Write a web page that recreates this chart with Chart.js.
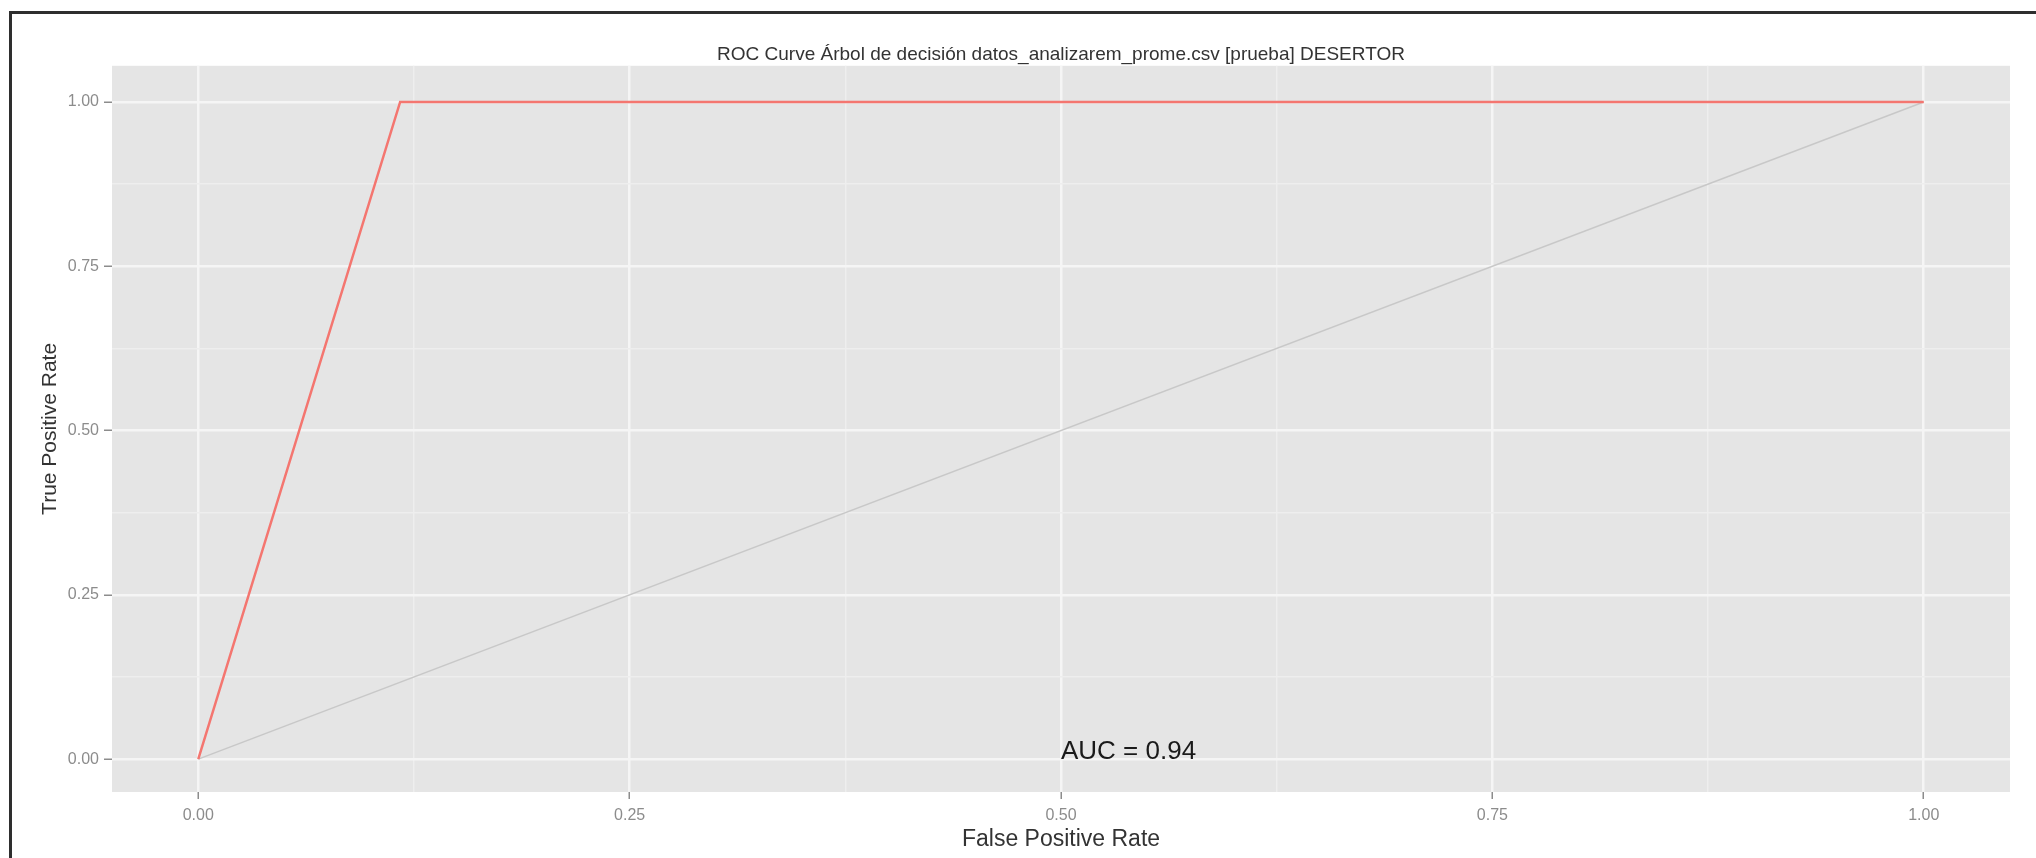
<!DOCTYPE html>
<html>
<head>
<meta charset="utf-8">
<script src="https://cdn.jsdelivr.net/npm/chart.js@4"></script>
<style>
  html, body { margin: 0; padding: 0; background: #fff; overflow: hidden; }
  #wrap { position: relative; width: 2036px; height: 858px; }
  #frame { position: absolute; left: 9px; top: 11px; width: 2100px; height: 900px;
           border: 3px solid #2e2e2e; pointer-events: none; }
</style>
</head>
<body>
<div id="wrap">
  <canvas id="myChart" width="2036" height="858"></canvas>
  <div id="frame"></div>
</div>
<script>
// ROC curve (false positive rate vs true positive rate)
var rocFpr = [0, 0.117, 1];
var rocTpr = [0, 1, 1];
// chance diagonal
var diagFpr = [0, 1];
var diagTpr = [0, 1];
var majorTicks = [0, 0.25, 0.5, 0.75, 1];
var minorTicks = [0.125, 0.375, 0.625, 0.875];
var aucText = 'AUC = 0.94';
var aucPos = [0.5, 0];
var titleText = 'ROC Curve Árbol de decisión datos_analizarem_prome.csv [prueba] DESERTOR';

Chart.defaults.font.family = "'Liberation Sans', Arial, sans-serif";

function isMajor(v) {
  return majorTicks.some(function (m) { return Math.abs(m - v) < 1e-9; });
}
function setTicks(scale) {
  scale.ticks = majorTicks.concat(minorTicks).sort(function (a, b) { return a - b; })
    .map(function (v) { return { value: v }; });
}
function gridColor(c) {
  return c.tick && isMajor(c.tick.value) ? '#f5f5f5' : '#eeeeee';
}
function gridWidth(c) {
  return c.tick && isMajor(c.tick.value) ? 2.5 : 1.5;
}
function tickColor(c) {
  return c.tick && isMajor(c.tick.value) ? '#8c8c8c' : 'rgba(0,0,0,0)';
}
function tickLabel(v) {
  return isMajor(v) ? v.toFixed(2) : '';
}

var panelBg = {
  id: 'panelBg',
  beforeDraw: function (chart) {
    var a = chart.chartArea, ctx = chart.ctx;
    ctx.save();
    ctx.fillStyle = '#e5e5e5';
    ctx.fillRect(a.left, a.top, a.right - a.left, a.bottom - a.top);
    ctx.restore();
  }
};

var aucLabel = {
  id: 'aucLabel',
  afterDatasetsDraw: function (chart) {
    var ctx = chart.ctx;
    var x = chart.scales.x.getPixelForValue(aucPos[0]);
    var y = chart.scales.y.getPixelForValue(aucPos[1]);
    ctx.save();
    ctx.font = "26px 'Liberation Sans', Arial, sans-serif";
    ctx.fillStyle = '#1a1a1a';
    ctx.textAlign = 'left';
    ctx.textBaseline = 'alphabetic';
    ctx.fillText(aucText, x, y);
    ctx.restore();
  }
};

var ctx = document.getElementById('myChart').getContext('2d');

var data = {
  datasets: [{
    label: 'ROC',
    data: rocFpr.map(function (v, i) { return { x: v, y: rocTpr[i] }; }),
    borderColor: '#f47670',
    borderWidth: 2.5,
    pointRadius: 0,
    showLine: true,
    fill: false
  }, {
    label: 'diagonal',
    data: diagFpr.map(function (v, i) { return { x: v, y: diagTpr[i] }; }),
    borderColor: '#c8c8c8',
    borderWidth: 1.5,
    pointRadius: 0,
    showLine: true,
    fill: false
  }]
};

var options = {
  responsive: false,
  animation: false,
  layout: { padding: { left: 0, right: 26, top: 0, bottom: 0 } },
  plugins: {
    legend: { display: false },
    tooltip: { enabled: false },
    title: {
      display: true,
      fullSize: false,
      text: titleText,
      color: '#333333',
      font: { size: 19, weight: 'normal' },
      padding: { top: 43, bottom: 0 }
    }
  },
  scales: {
    x: {
      type: 'linear',
      min: -0.05,
      max: 1.05,
      afterBuildTicks: setTicks,
      afterFit: function (s) { s.height = 66; },
      border: { display: false },
      grid: { color: gridColor, lineWidth: gridWidth, tickColor: tickColor, tickLength: 7, tickWidth: 1.5 },
      ticks: { callback: tickLabel, color: '#8c8c8c', font: { size: 16 }, padding: 7, maxRotation: 0, autoSkip: false },
      title: { display: true, text: 'False Positive Rate', color: '#333333', font: { size: 23 }, padding: { top: 0, bottom: 5 } }
    },
    y: {
      type: 'linear',
      min: -0.05,
      max: 1.055,
      afterBuildTicks: setTicks,
      afterFit: function (s) { s.width = 112; },
      border: { display: false },
      grid: { color: gridColor, lineWidth: gridWidth, tickColor: tickColor, tickLength: 8, tickWidth: 1.5 },
      ticks: { callback: tickLabel, color: '#8c8c8c', font: { size: 16 }, padding: 5, autoSkip: false },
      title: { display: true, text: 'True Positive Rate', color: '#333333', font: { size: 21 }, padding: { top: 38, bottom: 0 } }
    }
  }
};

var chart = new Chart(ctx, {
  type: 'scatter',
  data: data,
  options: options,
  plugins: [panelBg, aucLabel]
});
</script>
</body>
</html>
